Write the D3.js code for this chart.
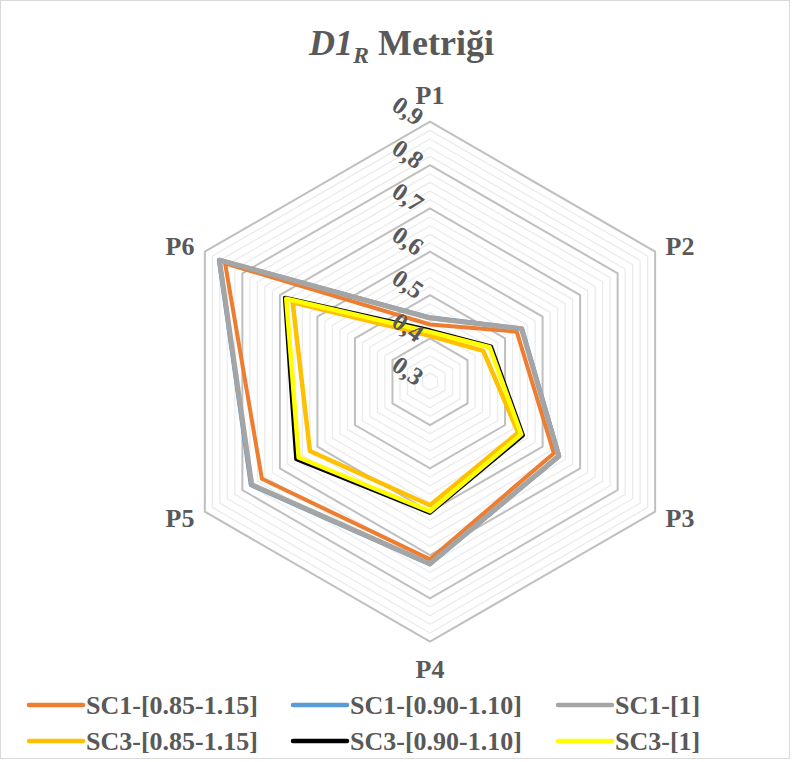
<!DOCTYPE html>
<html>
<head>
<meta charset="utf-8">
<script src="https://cdn.jsdelivr.net/npm/d3@7"></script>
<style>
  html, body { margin: 0; padding: 0; background: #fff; }
  svg { display: block; }
</style>
</head>
<body>
<svg id="chart" width="792" height="762"></svg>
<script>
// Axes of the radar (clockwise from the top)
const categories = ["P1", "P2", "P3", "P4", "P5", "P6"];

// Series names and values per axis
const seriesNames = [
  "SC1-[0.85-1.15]", "SC1-[0.90-1.10]", "SC1-[1]",
  "SC3-[0.85-1.15]", "SC3-[0.90-1.10]", "SC3-[1]"
];
const sc1_085_115 = [0.432, 0.531, 0.630, 0.710, 0.748, 0.846];
const sc1_090_110 = [0.448, 0.545, 0.644, 0.721, 0.777, 0.862];
const sc1_1       = [0.447, 0.544, 0.643, 0.720, 0.775, 0.861];
const sc3_085_115 = [0.406, 0.442, 0.535, 0.585, 0.620, 0.666];
const sc3_090_110 = [0.418, 0.462, 0.547, 0.602, 0.656, 0.686];
const sc3_1       = [0.415, 0.459, 0.543, 0.599, 0.650, 0.683];
const seriesColors = ["#ED7D31", "#5B9BD5", "#A5A5A5", "#FFC000", "#000000", "#FFFF00"];
const seriesWidths = [4, 4.5, 5, 4.5, 4.5, 4.5];

// Radial axis ticks
const tickValues = [0.3, 0.4, 0.5, 0.6, 0.7, 0.8, 0.9];
const tickLabels = ["0,3", "0,4", "0,5", "0,6", "0,7", "0,8", "0,9"];
const minorStep = 0.02;

const seriesValues = [sc1_085_115, sc1_090_110, sc1_1, sc3_085_115, sc3_090_110, sc3_1];
const series = seriesNames.map((name, i) => ({
  name, color: seriesColors[i], width: seriesWidths[i], values: seriesValues[i]
}));

const svg = d3.select("#chart");
const textColor = "#595959";
const serif = "'Liberation Serif', 'Times New Roman', serif";

// Chart frame
svg.append("rect")
  .attr("x", 0.5).attr("y", 0.5).attr("width", 789).attr("height", 758)
  .attr("fill", "#fff").attr("stroke", "#D9D9D9").attr("stroke-width", 1);

const cx = 430, cy = 381.7, R = 260;
const r = d3.scaleLinear().domain([0.3, 0.9]).range([0, R]);
const angle = d3.scalePoint().domain(categories).range([0, 2 * Math.PI * 5 / 6]);

const g = svg.append("g").attr("transform", `translate(${cx},${cy})`);

const ringPath = v => {
  const pts = categories.map(c => [r(v) * Math.sin(angle(c)), -r(v) * Math.cos(angle(c))]);
  return d3.line().curve(d3.curveLinearClosed)(pts);
};

// Minor rings
const minorValues = d3.range(0.3 + minorStep, 0.9 + 1e-9, minorStep)
  .filter(v => !tickValues.some(t => Math.abs(t - v) < 1e-6));
g.append("g").selectAll("path").data(minorValues).join("path")
  .attr("d", ringPath)
  .attr("fill", "none").attr("stroke", "#EBEBEB").attr("stroke-width", 1.3);

// Major rings
g.append("g").selectAll("path").data(tickValues.slice(1)).join("path")
  .attr("d", ringPath)
  .attr("fill", "none").attr("stroke", "#BFBFBF").attr("stroke-width", 2);

// Series polygons
const radarLine = d3.lineRadial()
  .angle((d, i) => angle(categories[i]))
  .radius(d => r(d))
  .curve(d3.curveLinearClosed);

g.append("g").selectAll("path").data(series).join("path")
  .attr("d", d => radarLine(d.values))
  .attr("fill", "none")
  .attr("stroke", d => d.color)
  .attr("stroke-width", d => d.width)
  .attr("stroke-linejoin", "round");

// Radial tick labels
g.append("g").selectAll("text").data(tickValues).join("text")
  .attr("transform", v => `translate(-22,${-r(v) - 11}) rotate(35)`)
  .attr("text-anchor", "middle")
  .attr("dominant-baseline", "central")
  .attr("font-family", serif).attr("font-weight", "bold").attr("font-size", 25)
  .attr("fill", textColor)
  .text((v, i) => tickLabels[i]);

// Category labels
g.append("g").selectAll("text").data(categories).join("text")
  .each(function (c) {
    const a = angle(c);
    const s = Math.sin(a), k = -Math.cos(a);
    const sel = d3.select(this);
    if (Math.abs(s) < 1e-6) {
      const off = 27;
      sel.attr("x", 0).attr("y", (k < 0 ? -R - off : R + off) + 9).attr("text-anchor", "middle");
    } else {
      const off = 12;
      sel.attr("x", (R + off) * s).attr("y", (R + off) * k + 9)
        .attr("text-anchor", s > 0 ? "start" : "end");
    }
  })
  .attr("font-family", serif).attr("font-weight", "bold").attr("font-size", 26)
  .attr("fill", textColor)
  .text(c => c);

// Title
const title = svg.append("text")
  .attr("x", 309).attr("y", 55)
  .attr("font-family", serif).attr("font-weight", "bold").attr("font-size", 36)
  .attr("fill", textColor);
title.append("tspan").attr("font-style", "italic").text("D1");
title.append("tspan").attr("font-style", "italic").attr("font-size", 24).attr("dy", 8).text("R");
title.append("tspan").attr("dy", -8).text(" Metriği");

// Legend
const legendCols = [29, 293, 558];
const legendRows = [705, 741];
const legend = svg.append("g").selectAll("g").data(series).join("g")
  .attr("transform", (d, i) => `translate(${legendCols[i % 3]},${legendRows[Math.floor(i / 3)]})`);
legend.append("line")
  .attr("x1", 0).attr("x2", 54).attr("y1", 0).attr("y2", 0)
  .attr("stroke", d => d.color).attr("stroke-width", 4.5).attr("stroke-linecap", "round");
legend.append("text")
  .attr("x", 57).attr("y", 8.5)
  .attr("font-family", serif).attr("font-weight", "bold").attr("font-size", 26)
  .attr("fill", textColor)
  .text(d => d.name);
</script>
</body>
</html>
